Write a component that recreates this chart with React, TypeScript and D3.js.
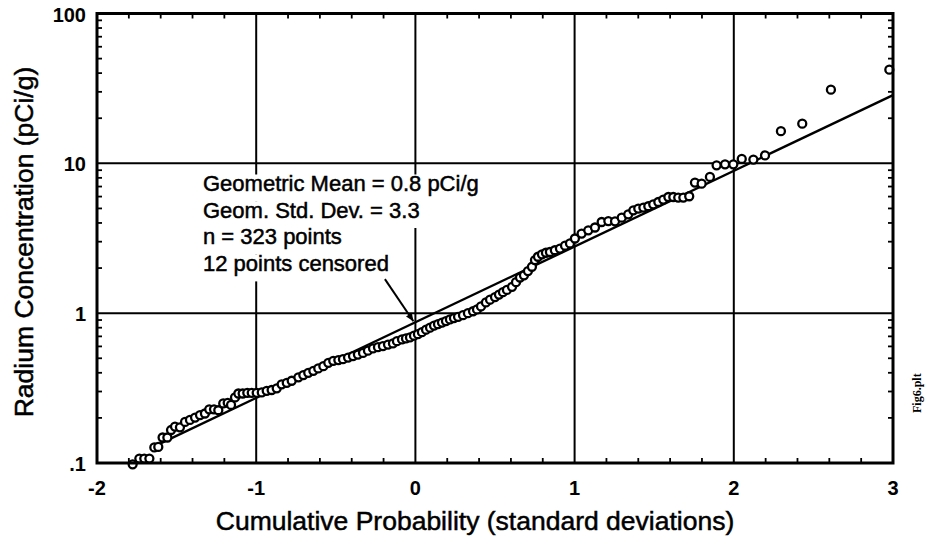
import { useEffect, useRef } from "react";
import * as d3 from "d3";

const zScores = [
  -1.776, -1.734, -1.703, -1.671, -1.64, -1.615, -1.588, -1.558, -1.535, -1.51,
  -1.479, -1.447, -1.416, -1.384, -1.353, -1.322, -1.295, -1.265, -1.238, -1.207,
  -1.179, -1.158, -1.133, -1.112, -1.085, -1.056, -1.028, -0.997, -0.965, -0.934,
  -0.903, -0.871, -0.84, -0.808, -0.777, -0.735, -0.704, -0.673, -0.641, -0.61,
  -0.578, -0.547, -0.516, -0.484,
  -0.455, -0.423, -0.392, -0.361, -0.329, -0.298, -0.266, -0.235, -0.204, -0.172,
  -0.141, -0.116, -0.084, -0.059, -0.034, -0.009, 0.016, 0.041, 0.067, 0.092,
  0.117, 0.142, 0.167, 0.192, 0.217, 0.242, 0.268, 0.299, 0.33, 0.362,
  0.387, 0.412, 0.443, 0.469, 0.5, 0.525, 0.55, 0.575, 0.607, 0.632,
  0.657, 0.682, 0.707, 0.732, 0.751, 0.77, 0.795, 0.82, 0.845, 0.876,
  0.908, 0.94, 0.971,
  1.002, 1.044, 1.086, 1.128, 1.17, 1.212, 1.254, 1.296, 1.337, 1.369,
  1.4, 1.432, 1.463, 1.494, 1.526, 1.557, 1.589, 1.62, 1.651, 1.683,
  1.72, 1.756, 1.798, 1.85, 1.892, 1.945, 1.997, 2.05, 2.123, 2.196,
  2.296, 2.43, 2.61, 2.977,
];
const concentrations = [
  0.098, 0.107, 0.107, 0.107, 0.127, 0.128, 0.148, 0.148, 0.166, 0.175,
  0.173, 0.188, 0.194, 0.201, 0.209, 0.214, 0.228, 0.228, 0.225, 0.25,
  0.252, 0.244, 0.274, 0.291, 0.291, 0.294, 0.294, 0.294, 0.296, 0.303,
  0.307, 0.315, 0.335, 0.343, 0.354, 0.373, 0.386, 0.4, 0.412, 0.428,
  0.443, 0.466, 0.481, 0.486,
  0.493, 0.505, 0.517, 0.529, 0.543, 0.562, 0.582, 0.593, 0.603, 0.617,
  0.628, 0.65, 0.668, 0.678, 0.689, 0.708, 0.724, 0.747, 0.776, 0.8,
  0.826, 0.845, 0.865, 0.885, 0.908, 0.927, 0.945, 0.97, 1.0, 1.03,
  1.06, 1.11, 1.18, 1.23, 1.28, 1.33, 1.38, 1.43, 1.5, 1.61,
  1.73, 1.79, 1.91, 2.04, 2.26, 2.38, 2.47, 2.53, 2.56, 2.63,
  2.7, 2.82, 2.92,
  3.15, 3.4, 3.57, 3.73, 4.06, 4.12, 4.1, 4.34, 4.57, 4.86,
  4.99, 5.07, 5.17, 5.33, 5.52, 5.73, 5.96, 5.96, 5.91, 5.91,
  6.03, 7.44, 7.32, 8.11, 9.7, 9.85, 9.85, 10.7, 10.6, 11.3,
  16.4, 18.4, 31, 42.2,
];

const xTickValues = [-2, -1, 0, 1, 2, 3];
const xTickLabels = ["-2", "-1", "0", "1", "2", "3"];
const yTickValues = [0.1, 1, 10, 100];
const yTickLabels = [".1", "1", "10", "100"];
const xGridValues = [-1, 0, 1, 2];
const yGridValues = [1, 10];

// fitted lognormal line as drawn
const fitMean = 0.87;
const fitGsd = 3.2;
const fitRange = [-1.62, 3];

const noteLines = [
  "Geometric Mean = 0.8 pCi/g",
  "Geom. Std. Dev. = 3.3",
  "n = 323 points",
  "12 points censored",
];

export default function App() {
  const ref = useRef<SVGSVGElement>(null);

  useEffect(() => {
    const svg = d3.select(ref.current);
    svg.selectAll("*").remove();

    const left = 97, right = 893, top = 13.5, bottom = 463;
    const x = d3.scaleLinear().domain([-2, 3]).range([left, right]);
    const y = d3.scaleLog().domain([0.1, 100]).range([bottom, top]);
    const sans = "'Liberation Sans', Arial, Helvetica, sans-serif";

    svg.append("rect").attr("width", 929).attr("height", 542).attr("fill", "#fff");

    // grid
    svg.selectAll(".gx").data(xGridValues).join("line")
      .attr("x1", d => x(d)).attr("x2", d => x(d))
      .attr("y1", top).attr("y2", bottom)
      .attr("stroke", "#000").attr("stroke-width", 2);
    svg.selectAll(".gy").data(yGridValues).join("line")
      .attr("x1", left).attr("x2", right)
      .attr("y1", d => y(d)).attr("y2", d => y(d))
      .attr("stroke", "#000").attr("stroke-width", 2);

    // minor ticks, pointing inward on all four sides
    const xMinor = d3.range(-20, 31, 2).map(v => v / 10).filter(v => !Number.isInteger(v));
    const yMinor: number[] = [];
    [0.1, 1, 10].forEach(dec => d3.range(2, 10).forEach(k => yMinor.push(dec * k)));
    const ticks = svg.append("g").attr("stroke", "#000").attr("stroke-width", 1.8);
    xMinor.forEach(v => {
      ticks.append("line").attr("x1", x(v)).attr("x2", x(v)).attr("y1", bottom).attr("y2", bottom - 5);
      ticks.append("line").attr("x1", x(v)).attr("x2", x(v)).attr("y1", top).attr("y2", top + 5);
    });
    yMinor.forEach(v => {
      ticks.append("line").attr("x1", left).attr("x2", left + 5).attr("y1", y(v)).attr("y2", y(v));
      ticks.append("line").attr("x1", right).attr("x2", right - 5).attr("y1", y(v)).attr("y2", y(v));
    });

    // annotation block with white backing so the grid breaks behind it
    const note = svg.append("g");
    noteLines.forEach((t, i) => {
      const base = 191 + i * 26.7;
      const txt = note.append("text")
        .attr("x", 203).attr("y", base)
        .attr("font-family", sans).attr("font-size", 22)
        .attr("fill", "#000").attr("stroke", "#000").attr("stroke-width", 0.5)
        .text(t);
      const w = (txt.node() as SVGTextElement).getComputedTextLength();
      note.insert("rect", "text")
        .attr("x", 199).attr("y", base - 16.5)
        .attr("width", w + 8).attr("height", 26.8)
        .attr("fill", "#fff");
      if (i === noteLines.length - 1) {
        const tipX = x(0) - 2, tipY = y(fitMean) - 1;
        const tailX = 203 + w - 4, tailY = base + 8;
        const ang = Math.atan2(tipY - tailY, tipX - tailX);
        svg.append("line")
          .attr("x1", tailX).attr("y1", tailY).attr("x2", tipX).attr("y2", tipY)
          .attr("stroke", "#000").attr("stroke-width", 2);
        const hl = 8, hw = 3.5;
        const bx = tipX - hl * Math.cos(ang), by = tipY - hl * Math.sin(ang);
        svg.append("path")
          .attr("d", `M${tipX},${tipY}L${bx - hw * Math.sin(ang)},${by + hw * Math.cos(ang)}L${bx + hw * Math.sin(ang)},${by - hw * Math.cos(ang)}Z`)
          .attr("fill", "#000");
      }
    });

    // fitted line
    const line = d3.line<number>().x(d => x(d)).y(d => y(fitMean * Math.pow(fitGsd, d)));
    svg.append("path").attr("d", line(fitRange))
      .attr("fill", "none").attr("stroke", "#000").attr("stroke-width", 2.4);

    // data points
    svg.append("g").selectAll("circle").data(zScores).join("circle")
      .attr("cx", d => x(d)).attr("cy", (d, i) => y(concentrations[i]))
      .attr("r", 4).attr("fill", "#fff").attr("stroke", "#000").attr("stroke-width", 2.3);

    // frame
    svg.append("rect").attr("x", left).attr("y", top)
      .attr("width", right - left).attr("height", bottom - top)
      .attr("fill", "none").attr("stroke", "#000").attr("stroke-width", 3);

    // tick labels
    svg.selectAll(".xl").data(xTickValues).join("text")
      .attr("x", d => x(d)).attr("y", 495).attr("text-anchor", "middle")
      .attr("font-family", sans).attr("font-weight", "bold").attr("font-size", 20)
      .text((d, i) => xTickLabels[i]);
    svg.selectAll(".yl").data(yTickValues).join("text")
      .attr("x", 86).attr("y", d => y(d) + 8).attr("text-anchor", "end")
      .attr("font-family", sans).attr("font-weight", "bold").attr("font-size", 20)
      .text((d, i) => yTickLabels[i]);

    // axis titles
    svg.append("text").attr("x", 475).attr("y", 530).attr("text-anchor", "middle")
      .attr("font-family", sans).attr("font-size", 26.5)
      .attr("stroke", "#000").attr("stroke-width", 0.5)
      .text("Cumulative Probability (standard deviations)");
    svg.append("text").attr("transform", "translate(33,242) rotate(-90)")
      .attr("text-anchor", "middle")
      .attr("font-family", sans).attr("font-size", 26.5)
      .attr("stroke", "#000").attr("stroke-width", 0.5)
      .text("Radium Concentration (pCi/g)");

    svg.append("text").attr("transform", "translate(921,413) rotate(-90)")
      .attr("font-family", "'Liberation Serif', 'Times New Roman', serif").attr("font-size", 12)
      .attr("font-weight", "bold")
      .text("Fig6.plt");
  }, []);

  return (
    <svg ref={ref} width={929} height={542}
      style={{ position: "absolute", left: 0, top: 0, display: "block" }} />
  );
}
